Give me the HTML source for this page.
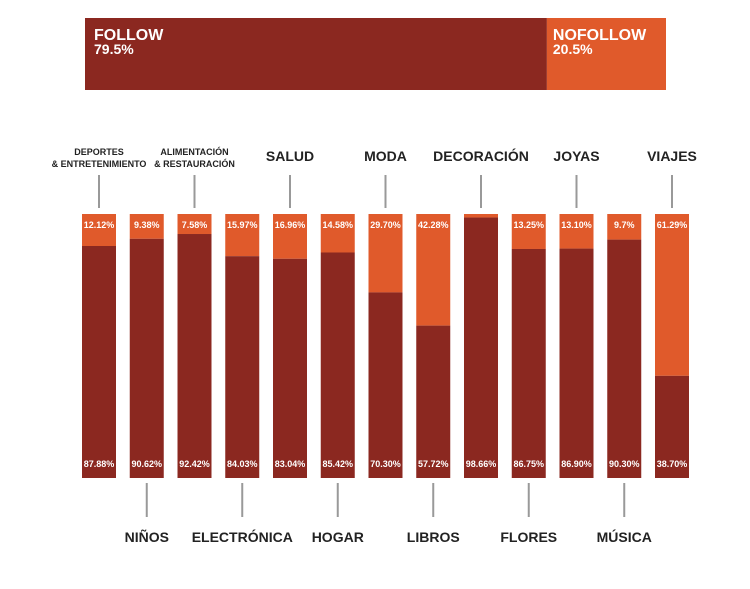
<!DOCTYPE html>
<html><head><meta charset="utf-8"><style>
body{margin:0;background:#fff;font-family:"Liberation Sans",sans-serif;}
svg text{font-family:"Liberation Sans",sans-serif;font-weight:bold;}
</style></head><body>
<svg width="750" height="584" viewBox="0 0 750 584">
<g id="top"></g><g id="bars"></g>
</svg>
<script>
const categories=["DEPORTES|& ENTRETENIMIENTO","NIÑOS","ALIMENTACIÓN|& RESTAURACIÓN","ELECTRÓNICA","SALUD","HOGAR","MODA","LIBROS","DECORACIÓN","FLORES","JOYAS","MÚSICA","VIAJES"];
const followVals=[87.88,90.62,92.42,84.03,83.04,85.42,70.30,57.72,98.66,86.75,86.90,90.30,38.70];
const nofollowLabels=["12.12%","9.38%","7.58%","15.97%","16.96%","14.58%","29.70%","42.28%","","13.25%","13.10%","9.7%","61.29%"];
const followLabels=["87.88%","90.62%","92.42%","84.03%","83.04%","85.42%","70.30%","57.72%","98.66%","86.75%","86.90%","90.30%","38.70%"];
const totalFollow=79.5;
const DARK="#8b2820",ORANGE="#e05a2b",NS="http://www.w3.org/2000/svg";
function mk(t,a,p){const e=document.createElementNS(NS,t);for(const k in a)e.setAttribute(k,a[k]);p.appendChild(e);return e;}
// top summary bar
const T=document.getElementById('top');
const tx0=85,tw=581,ty=18,th=72;
const fx=v=>tx0+tw*v/100;
let r=mk('rect',{x:tx0,y:ty,width:fx(totalFollow)-tx0,height:th,fill:DARK},T);

r=mk('rect',{x:fx(totalFollow),y:ty,width:tx0+tw-fx(totalFollow),height:th,fill:ORANGE},T);

let t=mk('text',{x:tx0+9,y:40,fill:"#fff","font-size":16},T);t.textContent="FOLLOW";

t=mk('text',{x:tx0+9,y:54,fill:"#fff","font-size":14},T);t.textContent=totalFollow+"%";

t=mk('text',{x:fx(totalFollow)+6,y:40,fill:"#fff","font-size":16},T);t.textContent="NOFOLLOW";

t=mk('text',{x:fx(totalFollow)+6,y:54,fill:"#fff","font-size":14},T);t.textContent=(100-totalFollow).toFixed(1)+"%";

// bars
const B=document.getElementById('bars');
const x0=82,pitch=47.75,bw=34,yTop=214,yBot=478;
const ys=v=>yBot-(yBot-yTop)*v/100;
categories.forEach((c,i)=>{
 const x=x0+i*pitch,cx=x+bw/2;
 const g=mk('g',{},B);
 
 let a=mk('rect',{x:x,y:yTop,width:bw,height:ys(followVals[i])-yTop,fill:ORANGE},g);
 
 a=mk('rect',{x:x,y:ys(followVals[i]),width:bw,height:yBot-ys(followVals[i]),fill:DARK},g);
 
 if(nofollowLabels[i]){a=mk('text',{x:cx,y:228,fill:"#fff","font-size":9,"text-anchor":"middle"},g);a.textContent=nofollowLabels[i];
 }
 a=mk('text',{x:cx,y:467,fill:"#fff","font-size":9,"text-anchor":"middle"},g);a.textContent=followLabels[i];
 
 const top=i%2===0;
 a=mk('line',top?{x1:cx,x2:cx,y1:175,y2:208}:{x1:cx,x2:cx,y1:483,y2:517},g);
 a.setAttribute('stroke','#999');a.setAttribute('stroke-width','2');
 
 const parts=c.split('|');
 if(parts.length>1){
  parts.forEach((p,j)=>{a=mk('text',{x:cx,y:155+j*12,fill:"#222","font-size":9,"text-anchor":"middle"},g);a.textContent=p;
  });
 }else{
  a=mk('text',{x:cx,y:top?161:542,fill:"#222","font-size":14,"text-anchor":"middle"},g);a.textContent=c;
  
 }
});
</script>
</body></html>
